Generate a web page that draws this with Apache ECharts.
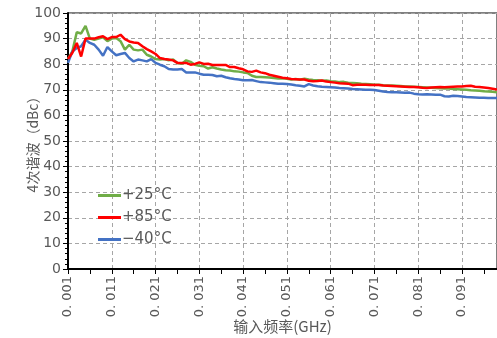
<!DOCTYPE html>
<html>
<head>
<meta charset="utf-8">
<script src="https://cdn.jsdelivr.net/npm/echarts@6/dist/echarts.min.js"></script>
<style>
  html, body { margin: 0; padding: 0; background: #fff; }
  #chart { width: 497px; height: 338px; }
</style>
</head>
<body>
<div id="chart"></div>
<script>
// Input frequency steps (GHz), 0.001 .. 0.099
const freqs = [];
for (let i = 1; i <= 99; i++) freqs.push((i / 1000).toFixed(3));

// 4th harmonic (dBc) per temperature
const h25 = [82, 85, 92.5, 92, 95, 90, 89.5, 90, 90.5, 89, 90, 90.2, 89, 85.7, 87.6, 85.7, 85.4, 85.7, 83.7, 83,
  82, 81.8, 82, 81.5, 81.8, 80.5, 80.2, 81.5, 80.9, 79.8, 79.4, 79.2, 78.3, 78.8, 78.3, 77.9, 77.6, 77.5, 77.2, 77.1,
  76.8, 76.6, 75.5, 75, 75, 74.9, 74.8, 74.6, 74.4, 74.5, 74.3, 74, 74.2, 73.9, 74.3, 74, 73.8, 73.7, 73.5, 73.6,
  73.3, 73.2, 73, 73.1, 72.8, 72.7, 72.6, 72.4, 72.3, 72.2, 72, 72, 71.8, 71.7, 71.7, 71.6, 71.5, 71.3, 71.3, 71.2,
  71.1, 71, 70.9, 70.8, 70.7, 70.6, 70.5, 70.5, 70.3, 70.2, 70.1, 70, 69.8, 69.7, 69.6, 69.4, 69.3, 69.2, 69];
const h85 = [82, 84.5, 88.3, 83, 90, 90, 90, 90.5, 90.9, 89.8, 90.6, 90.6, 91.5, 89.8, 88.9, 88.5, 88.3, 87, 85.9, 85,
  84, 82.4, 82, 81.8, 81.5, 80.5, 80.5, 80.5, 79.8, 80.1, 80.7, 80.1, 80.2, 79.7, 79.7, 79.7, 79.7, 78.9, 78.9, 78.4,
  78, 77.2, 77, 77.5, 76.8, 76.5, 75.9, 75.5, 75.1, 74.7, 74.5, 74.2, 74.1, 74, 74, 73.5, 73.3, 73.4, 73.6, 73.2,
  73, 72.8, 72.6, 72.5, 72.4, 71.8, 72, 72, 72, 71.9, 71.9, 71.9, 71.7, 71.6, 71.5, 71.4, 71.3, 71.2, 71.1, 71.1,
  71, 70.8, 70.7, 70.9, 71, 71.1, 71, 71.1, 71.2, 71.3, 71.3, 71.5, 71.6, 71.2, 71.1, 70.9, 70.7, 70.4, 70.1];
const hM40 = [80.5, 85, 86.3, 87, 89.6, 88.3, 87.6, 85.7, 83.3, 86.7, 85, 83.5, 84, 84.4, 82.4, 81.1, 81.8, 81.5, 81.1, 82,
  80.5, 79.8, 79.2, 78.1, 77.9, 77.9, 78.1, 76.8, 76.8, 76.8, 76.3, 75.9, 75.9, 75.8, 75.3, 75.5, 74.9, 74.5, 74.2, 74,
  73.7, 73.7, 73.8, 73.4, 73, 72.9, 72.8, 72.6, 72.4, 72.4, 72.3, 72.1, 71.8, 71.6, 71.3, 72.2, 71.7, 71.4, 71.2, 71.1,
  71, 70.9, 70.7, 70.6, 70.5, 70.3, 70.2, 70.1, 70, 70, 69.9, 69.6, 69.3, 69.1, 69, 69, 68.9, 68.8, 68.9, 68.5,
  68.3, 68.2, 68.3, 68.2, 68.1, 68.1, 67.5, 67.4, 67.7, 67.6, 67.4, 67.2, 67.1, 67, 66.9, 66.9, 66.8, 66.8, 66.8];

const seriesNames = ['+25°C', '+85°C', '−40°C'];
const seriesColors = ['#70ad47', '#ff0000', '#4472c4'];
const seriesData = [h25, h85, hM40];

const labelGray = '#595959';
const chart = echarts.init(document.getElementById('chart'), null, { renderer: 'canvas' });

chart.setOption({
  animation: false,
  backgroundColor: '#fff',
  grid: {
    left: 68, right: 0, top: 13, bottom: 69,
    outerBoundsMode: 'none',
    containLabel: false,
    show: true, borderColor: '#000', borderWidth: 1
  },
  legend: {
    orient: 'vertical',
    left: 93, top: 183,
    icon: 'rect',
    itemWidth: 23, itemHeight: 3,
    itemGap: 7,
    textStyle: { color: labelGray, fontSize: 15, fontFamily: 'DejaVu Sans', padding: [0, 0, 0, -4] },
    data: seriesNames
  },
  xAxis: {
    type: 'category',
    data: freqs,
    boundaryGap: false,
    name: '输入频率(GHz)',
    nameLocation: 'middle',
    nameGap: 50,
    nameMoveOverlap: false,
    nameTextStyle: { color: labelGray, fontSize: 15, fontFamily: 'Noto Sans CJK SC' },
    axisLine: { lineStyle: { color: '#000', width: 2 } },
    axisTick: { show: true, interval: 4, length: 5, lineStyle: { color: '#000', width: 1 } },
    axisLabel: {
      interval: 9, rotate: 90, margin: 7,
      color: labelGray, fontSize: 13, fontFamily: 'DejaVu Sans',
      formatter: v => v.replace('.', '. ')
    },
    splitLine: { show: true, interval: 9, lineStyle: { color: '#a6a6a6', type: [4, 3], width: 1 } }
  },
  yAxis: {
    type: 'value',
    min: 0, max: 100, interval: 10,
    name: '4次谐波（dBc）',
    nameLocation: 'middle',
    nameGap: 28,
    nameMoveOverlap: false,
    nameTextStyle: { color: labelGray, fontSize: 14, fontFamily: 'Noto Sans CJK SC' },
    axisLine: { show: true, lineStyle: { color: '#000', width: 2 } },
    axisTick: { show: true, length: 5, lineStyle: { color: '#000' } },
    minorTick: { show: true, splitNumber: 5, length: 3, lineStyle: { color: '#000' } },
    axisLabel: { color: labelGray, fontSize: 14, fontFamily: 'DejaVu Sans', margin: 7 },
    splitLine: { show: true, lineStyle: { color: '#a6a6a6', type: [4, 3], width: 1 } }
  },
  series: seriesData.map((d, k) => ({
    name: seriesNames[k],
    type: 'line',
    data: d,
    showSymbol: false,
    symbol: 'none',
    color: seriesColors[k],
    lineStyle: { color: seriesColors[k], width: 2.5 },
    z: k === 1 ? 3 : 2
  }))
});
</script>
</body>
</html>
